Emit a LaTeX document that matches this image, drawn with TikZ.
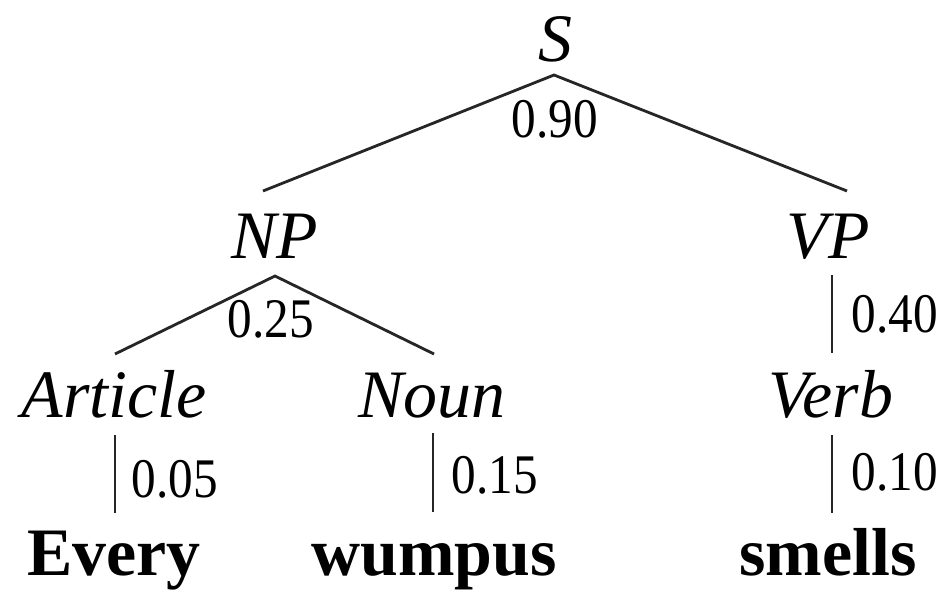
\documentclass[tikz,border=0pt]{standalone}
\usepackage{graphicx}
\usepackage{fontspec}
\setmainfont{Liberation Serif}
\newcommand\probtxt[1]{\scalebox{0.88}[1]{#1}}
\begin{document}
\begin{tikzpicture}[x=0.01cm,y=-0.01cm,
  cat/.style={font=\fontsize{19.3pt}{23pt}\selectfont\itshape, anchor=base, inner sep=0pt},
  word/.style={font=\fontsize{19.3pt}{23pt}\selectfont\bfseries, anchor=base, inner sep=0pt},
  prob/.style={font=\fontsize{15.9pt}{19pt}\selectfont, anchor=base, inner sep=0pt},
  edge/.style={line width=0.8pt, black!85}]
\useasboundingbox (0,0) rectangle (946,591);
% categories
\node[cat] (S) at (555,62) {S};
\node[cat] (NP) at (275,258) {NP};
\node[cat] (VP) at (828,258) {VP};
\node[cat] (Article) at (114,417) {Article};
\node[cat] (Noun) at (432,417) {Noun};
\node[cat] (Verb) at (831,417) {Verb};
% words
\node[word] (Every) at (114,575) {Every};
\node[word] (wumpus) at (434,575) {wumpus};
\node[word] (smells) at (828,575) {smells};
% probabilities
\node[prob] (p90) at (555,137) {\probtxt{0.90}};
\node[prob] (p25) at (271,337) {\probtxt{0.25}};
\node[prob] (p40) at (895,332) {\probtxt{0.40}};
\node[prob] (p05) at (175,497) {\probtxt{0.05}};
\node[prob] (p15) at (495,493) {\probtxt{0.15}};
\node[prob] (p10) at (895,490) {\probtxt{0.10}};
% connector end points
\coordinate (Sb) at (554,75);
\coordinate (NPt) at (263,191);
\coordinate (VPt) at (847,191);
\coordinate (NPb) at (275,276);
\coordinate (Artt) at (115,354);
\coordinate (Nount) at (434,354);
\coordinate (VPb) at (832,275);
\coordinate (Verbt) at (832,353);
\coordinate (Artb) at (115,435);
\coordinate (Everyt) at (115,513);
\coordinate (Nounb) at (433,433);
\coordinate (wumpust) at (433,512);
\coordinate (Verbb) at (832,435);
\coordinate (smellst) at (832,513);
% connectors
\draw[edge] (NPt) -- (Sb) -- (VPt);
\draw[edge] (Artt) -- (NPb) -- (Nount);
\draw[edge] (VPb) -- (Verbt);
\draw[edge] (Artb) -- (Everyt);
\draw[edge] (Nounb) -- (wumpust);
\draw[edge] (Verbb) -- (smellst);
\end{tikzpicture}
\end{document}
